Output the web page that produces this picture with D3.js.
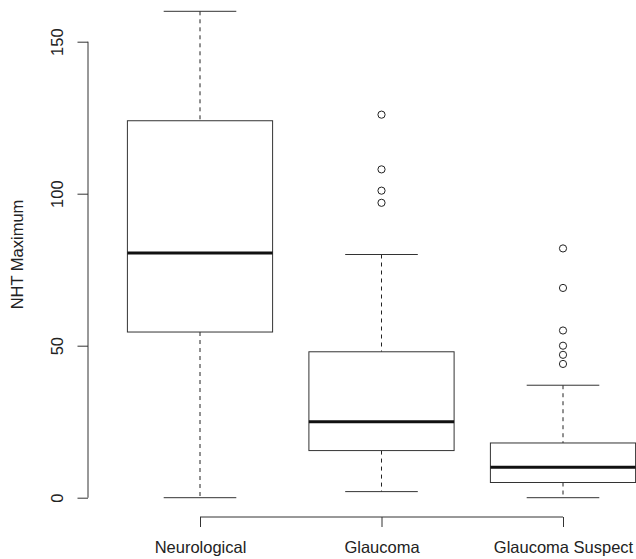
<!DOCTYPE html>
<html>
<head>
<meta charset="utf-8">
<script src="https://cdn.jsdelivr.net/npm/d3@7"></script>
<style>
  body { margin: 0; background: #fff; }
  text { font-family: "Liberation Sans", Arial, Helvetica, sans-serif; fill: #222; }
</style>
</head>
<body>
<script>
var width = 636;
var height = 559;

// data
var groups = ["Neurological", "Glaucoma", "Glaucoma Suspect"];
var lowWhisker = [0, 2, 0];
var q1 = [54.5, 15.5, 5];
var medians = [80.5, 25, 10];
var q3 = [124, 48, 18];
var highWhisker = [160, 80, 37];
var outliers = [[], [126, 108, 101, 97], [82, 69, 55, 50, 47, 44]];
var yTicks = [0, 50, 100, 150];

var boxes = groups.map(function(g, i) {
  return { name: g, idx: i + 1, lo: lowWhisker[i], q1: q1[i], med: medians[i],
           q3: q3[i], hi: highWhisker[i], out: outliers[i] };
});

var x = d3.scaleLinear().domain([1, 3]).range([200, 563]);
var y = d3.scaleLinear().domain([0, 150]).range([497.7, 41.7]);
var step = x(2) - x(1);
var boxHalf = step * 0.4;
var capHalf = step * 0.2;

var svg = d3.select("body")
            .append("svg")
            .attr("width", width)
            .attr("height", height);

var g = svg.selectAll("g.box")
           .data(boxes)
           .enter()
           .append("g")
           .attr("class", "box");

// whiskers
g.append("line")
  .attr("x1", function(d) { return x(d.idx); })
  .attr("x2", function(d) { return x(d.idx); })
  .attr("y1", function(d) { return y(d.hi); })
  .attr("y2", function(d) { return y(d.q3); })
  .attr("stroke", "#222").attr("stroke-dasharray", "4,4");
g.append("line")
  .attr("x1", function(d) { return x(d.idx); })
  .attr("x2", function(d) { return x(d.idx); })
  .attr("y1", function(d) { return y(d.q1); })
  .attr("y2", function(d) { return y(d.lo); })
  .attr("stroke", "#222").attr("stroke-dasharray", "4,4");

// caps
["hi", "lo"].forEach(function(k) {
  g.append("line")
    .attr("x1", function(d) { return x(d.idx) - capHalf; })
    .attr("x2", function(d) { return x(d.idx) + capHalf; })
    .attr("y1", function(d) { return y(d[k]); })
    .attr("y2", function(d) { return y(d[k]); })
    .attr("stroke", "#333");
});

// box
g.append("rect")
  .attr("x", function(d) { return x(d.idx) - boxHalf; })
  .attr("width", boxHalf * 2)
  .attr("y", function(d) { return y(d.q3); })
  .attr("height", function(d) { return y(d.q1) - y(d.q3); })
  .attr("fill", "#fff")
  .attr("stroke", "#333");

// median
g.append("line")
  .attr("x1", function(d) { return x(d.idx) - boxHalf; })
  .attr("x2", function(d) { return x(d.idx) + boxHalf; })
  .attr("y1", function(d) { return y(d.med); })
  .attr("y2", function(d) { return y(d.med); })
  .attr("stroke", "#111").attr("stroke-width", 3);

// outliers
g.selectAll("circle")
  .data(function(d) { return d.out.map(function(v) { return { idx: d.idx, v: v }; }); })
  .enter()
  .append("circle")
  .attr("cx", function(d) { return x(d.idx); })
  .attr("cy", function(d) { return y(d.v); })
  .attr("r", 3.6)
  .attr("fill", "none")
  .attr("stroke", "#222");

// y axis
var yAxis = svg.append("g").attr("transform", "translate(88,0)")
  .call(d3.axisLeft(y).tickValues(yTicks).tickSize(10.5).tickFormat(d3.format("d")));
yAxis.select(".domain").attr("stroke", "#333").attr("d", "M0," + y(0) + "V" + y(150));
yAxis.selectAll(".tick line").attr("stroke", "#333");
yAxis.selectAll(".tick text")
  .attr("x", null).attr("dy", null)
  .attr("transform", "translate(-25,0) rotate(-90)")
  .attr("text-anchor", "middle")
  .style("font-size", "16.5px")
  .attr("fill", "#222");

// x axis
var xAxis = svg.append("g").attr("transform", "translate(0,517)")
  .call(d3.axisBottom(x).tickValues([1, 2, 3]).tickSize(10)
          .tickFormat(function(d) { return groups[d - 1]; }));
xAxis.select(".domain").attr("stroke", "#333").attr("d", "M" + x(1) + ",0H" + x(3));
xAxis.selectAll(".tick line").attr("stroke", "#333");
xAxis.selectAll(".tick text")
  .attr("y", 36).attr("dy", null)
  .style("font-size", "16.5px")
  .attr("fill", "#222");

// axis title, centred on the plot region
svg.append("text")
  .attr("transform", "translate(23," + y(80) + ") rotate(-90)")
  .attr("text-anchor", "middle")
  .style("font-size", "16.5px")
  .text("NHT Maximum");
</script>
</body>
</html>
